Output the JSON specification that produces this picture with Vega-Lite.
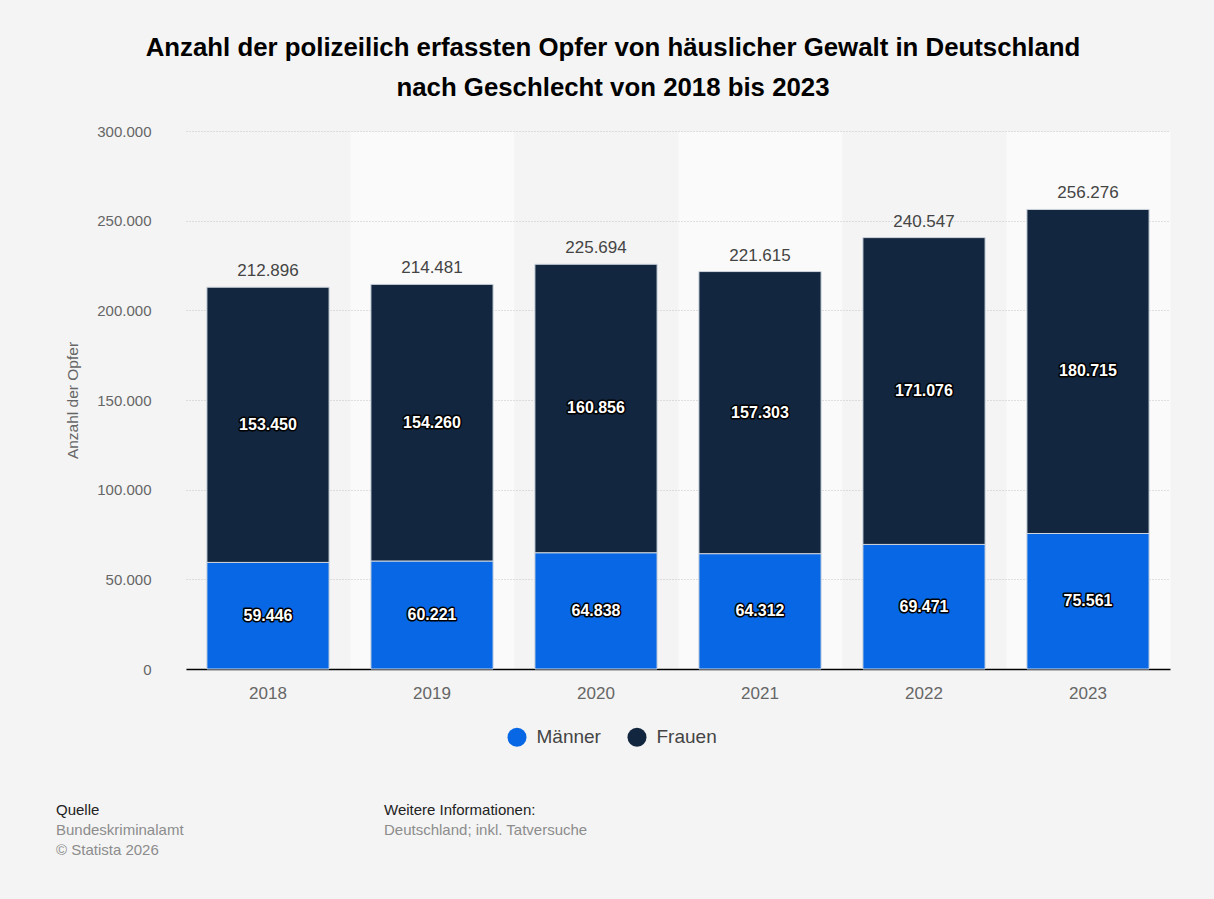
{
  "$schema": "https://vega.github.io/schema/vega-lite/v6.json",
  "background": "#f4f4f4",
  "padding": {"left": 56, "top": 35, "right": 44, "bottom": 40},
  "config": {
    "font": "Liberation Sans",
    "view": {"stroke": null},
    "locale": {"number": {"decimal": ",", "thousands": ".", "grouping": [3], "currency": ["", " €"]}}
  },
  "title": {
    "text": ["Anzahl der polizeilich erfassten Opfer von häuslicher Gewalt in Deutschland", "nach Geschlecht von 2018 bis 2023"],
    "fontSize": 25.8,
    "fontWeight": "bold",
    "lineHeight": 40,
    "anchor": "middle",
    "color": "#000000",
    "offset": 22
  },
  "datasets": {
    "opfer": [
      {"jahr": "2018", "geschlecht": "Männer", "anzahl": 59446},
      {"jahr": "2018", "geschlecht": "Frauen", "anzahl": 153450},
      {"jahr": "2019", "geschlecht": "Männer", "anzahl": 60221},
      {"jahr": "2019", "geschlecht": "Frauen", "anzahl": 154260},
      {"jahr": "2020", "geschlecht": "Männer", "anzahl": 64838},
      {"jahr": "2020", "geschlecht": "Frauen", "anzahl": 160856},
      {"jahr": "2021", "geschlecht": "Männer", "anzahl": 64312},
      {"jahr": "2021", "geschlecht": "Frauen", "anzahl": 157303},
      {"jahr": "2022", "geschlecht": "Männer", "anzahl": 69471},
      {"jahr": "2022", "geschlecht": "Frauen", "anzahl": 171076},
      {"jahr": "2023", "geschlecht": "Männer", "anzahl": 75561},
      {"jahr": "2023", "geschlecht": "Frauen", "anzahl": 180715}
    ]
  },
  "resolve": {"legend": {"color": "independent"}},
  "spacing": 55,
  "vconcat": [
    {
      "width": 984,
      "height": 538,
      "data": {"name": "opfer"},
      "encoding": {
        "x": {
          "field": "jahr",
          "type": "ordinal",
          "scale": {"paddingInner": 0, "paddingOuter": 0},
          "axis": {
            "title": null,
            "labelAngle": 0,
            "labelColor": "#666666",
            "labelFontSize": 17,
            "labelPadding": 16,
            "ticks": false,
            "domainColor": "#000000",
            "domainWidth": 1.5,
            "grid": true,
            "gridWidth": 164,
            "bandPosition": 0.5,
            "gridColor": {"condition": {"test": "indexof(['2019','2021','2023'], datum.value) >= 0", "value": "#fafafa"}, "value": "#f4f4f4"}
          }
        }
      },
      "layer": [
        {
          "mark": {"type": "bar", "width": {"band": 0.745}, "stroke": "#cfd6de", "strokeWidth": 1},
          "encoding": {
            "y": {
              "field": "anzahl",
              "type": "quantitative",
              "stack": "zero",
              "scale": {"domain": [0, 300000], "nice": false},
              "axis": {
                "values": [0, 50000, 100000, 150000, 200000, 250000, 300000],
                "format": ",.0f",
                "title": "Anzahl der Opfer",
                "labelColor": "#666666",
                "labelFontSize": 15,
                "labelPadding": 35,
                "ticks": false,
                "domain": false,
                "gridColor": "#c4c4c4",
                "gridDash": [1, 2],
                "titleColor": "#666666",
                "titleFontSize": 15.5,
                "titleFontWeight": "normal",
                "titlePadding": 16
              }
            },
            "color": {
              "field": "geschlecht",
              "type": "nominal",
              "sort": ["Männer", "Frauen"],
              "scale": {"domain": ["Männer", "Frauen"], "range": ["#0767e5", "#12263f"]},
              "legend": {
                "orient": "none",
                "direction": "horizontal",
                "legendX": 321.5,
                "legendY": 596.5,
                "padding": 0,
                "title": null,
                "symbolType": "circle",
                "symbolSize": 361,
                "symbolStrokeWidth": 0,
                "labelFontSize": 19,
                "labelColor": "#444444",
                "columnPadding": 26,
                "labelOffset": 10
              }
            },
            "order": {"field": "geschlecht", "sort": "descending"}
          }
        },
        {
          "mark": {"type": "text", "fontSize": 16, "fontWeight": "bold", "fill": "#000000", "stroke": "#000000", "strokeWidth": 3, "strokeJoin": "round"},
          "encoding": {
            "y": {"field": "anzahl", "type": "quantitative", "stack": "zero", "bandPosition": 0.5},
            "detail": {"field": "geschlecht"},
            "order": {"field": "geschlecht", "sort": "descending"},
            "text": {"field": "anzahl", "type": "quantitative", "format": ","}
          }
        },
        {
          "mark": {"type": "text", "fontSize": 16, "fontWeight": "bold", "fill": "#ffffff"},
          "encoding": {
            "y": {"field": "anzahl", "type": "quantitative", "stack": "zero", "bandPosition": 0.5},
            "detail": {"field": "geschlecht"},
            "order": {"field": "geschlecht", "sort": "descending"},
            "text": {"field": "anzahl", "type": "quantitative", "format": ","}
          }
        },
        {
          "transform": [{"aggregate": [{"op": "sum", "field": "anzahl", "as": "gesamt"}], "groupby": ["jahr"]}],
          "mark": {"type": "text", "fontSize": 17, "color": "#444444", "baseline": "alphabetic", "dy": -11},
          "encoding": {
            "y": {"field": "gesamt", "type": "quantitative"},
            "text": {"field": "gesamt", "type": "quantitative", "format": ","}
          }
        }
      ]
    },
    {
      "spacing": 28,
      "hconcat": [
        {
          "width": 170,
          "height": 1,
          "data": {"values": []},
          "mark": {"type": "text"},
          "encoding": {"text": {"value": ""}},
          "title": {
            "text": "Quelle",
            "subtitle": ["Bundeskriminalamt", "© Statista 2026"],
            "anchor": "start",
            "dx": -130,
            "fontSize": 15,
            "fontWeight": "normal",
            "color": "#222222",
            "subtitleColor": "#8c8c8c",
            "subtitleFontSize": 15,
            "subtitleLineHeight": 20,
            "subtitlePadding": 5
          }
        },
        {
          "width": 300,
          "height": 1,
          "data": {"values": []},
          "mark": {"type": "text"},
          "encoding": {"text": {"value": ""}},
          "title": {
            "text": "Weitere Informationen:",
            "subtitle": ["Deutschland; inkl. Tatversuche", " "],
            "anchor": "start",
            "dx": -130,
            "fontSize": 15,
            "fontWeight": "normal",
            "color": "#222222",
            "subtitleColor": "#8c8c8c",
            "subtitleFontSize": 15,
            "subtitleLineHeight": 20,
            "subtitlePadding": 5
          }
        }
      ]
    }
  ]
}
